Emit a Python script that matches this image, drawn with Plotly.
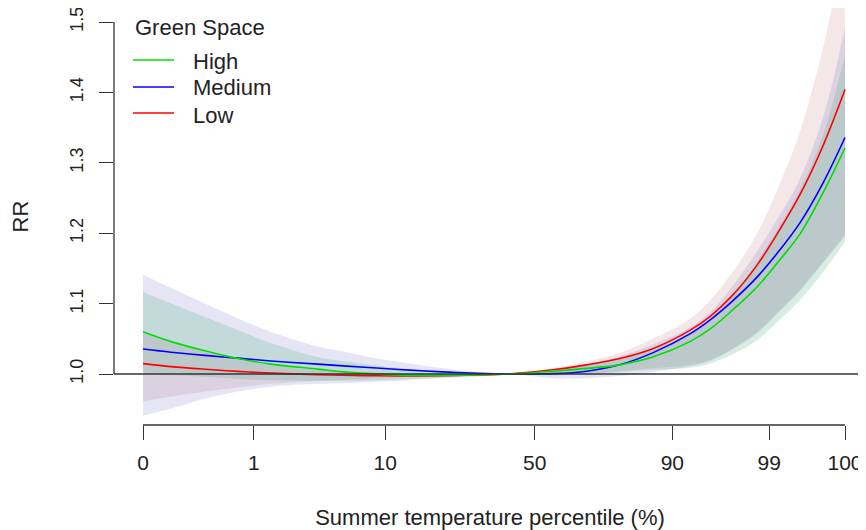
import plotly.graph_objects as go

# Position on the summer temperature scale (0 = coldest day, 100 = hottest day)
temp_pos = [0.0, 4.0, 8.8, 13.5, 18.2, 24.9, 28.5, 33.3, 38.0, 42.7, 47.6, 52.0,
            58.4, 63.2, 67.9, 72.6, 77.9, 80.8, 84.0, 87.5, 90.7, 93.6, 96.9, 100.0]

# Percentile ticks and their positions on the temperature scale
tick_pos = [0.0, 15.8, 34.5, 55.8, 75.4, 89.2, 100.0]
tick_labels = ["0", "1", "10", "50", "90", "99", "100"]

# Relative risk (RR) curves
rr_high = [1.060, 1.046, 1.033, 1.022, 1.014, 1.007, 1.003, 1.000, 0.998, 0.998, 0.9985, 1.000,
           1.004, 1.008, 1.013, 1.024, 1.046, 1.064, 1.091, 1.124, 1.162, 1.199, 1.258, 1.321]
rr_medium = [1.0355, 1.031, 1.0265, 1.0225, 1.0185, 1.014, 1.0115, 1.0085, 1.0055, 1.003, 1.001, 1.000,
             1.0005, 1.004, 1.013, 1.030, 1.057, 1.077, 1.104, 1.138, 1.176, 1.215, 1.272, 1.336]
rr_low = [1.0147, 1.0105, 1.0068, 1.0037, 1.0013, 0.999, 0.9982, 0.9975, 0.9972, 0.9975, 0.9985, 1.000,
          1.006, 1.013, 1.022, 1.036, 1.062, 1.082, 1.112, 1.155, 1.205, 1.255, 1.325, 1.404]

# 95% confidence bands
high_lo = [1.002, 0.999, 0.996, 0.993, 0.991, 0.990, 0.990, 0.991, 0.993, 0.995, 0.998, 1.000,
           0.998, 1.000, 1.003, 1.006, 1.009, 1.015, 1.028, 1.048, 1.077, 1.105, 1.145, 1.188]
high_hi = [1.116, 1.100, 1.081, 1.0625, 1.044, 1.024, 1.018, 1.012, 1.007, 1.004, 1.001, 1.000,
           1.006, 1.013, 1.022, 1.036, 1.058, 1.078, 1.110, 1.160, 1.210, 1.262, 1.340, 1.453]
medium_lo = [0.941, 0.951, 0.965, 0.975, 0.982, 0.986, 0.987, 0.989, 0.9915, 0.994, 0.996, 1.000,
             0.994, 0.994, 0.997, 1.003, 1.011, 1.019, 1.035, 1.058, 1.089, 1.118, 1.158, 1.195]
medium_hi = [1.141, 1.122, 1.100, 1.079, 1.060, 1.039, 1.032, 1.022, 1.015, 1.008, 1.003, 1.000,
             1.006, 1.014, 1.025, 1.042, 1.066, 1.088, 1.125, 1.175, 1.225, 1.278, 1.365, 1.491]
low_lo = [0.961, 0.968, 0.975, 0.981, 0.986, 0.9905, 0.992, 0.994, 0.996, 0.998, 0.999, 1.000,
          0.999, 1.001, 1.004, 1.008, 1.013, 1.020, 1.036, 1.060, 1.091, 1.120, 1.160, 1.199]
low_hi = [1.058, 1.045, 1.032, 1.021, 1.012, 1.006, 1.004, 1.002, 1.001, 1.0005, 1.0002, 1.000,
          1.008, 1.018, 1.030, 1.050, 1.078, 1.105, 1.145, 1.200, 1.270, 1.345, 1.465, 1.610]

y_ticks = [1.0, 1.1, 1.2, 1.3, 1.4, 1.5]
y_tick_labels = ["1.0", "1.1", "1.2", "1.3", "1.4", "1.5"]

legend_title = "Green Space"
legend_names = ["High", "Medium", "Low"]

groups = {
    "Low": (rr_low, low_lo, low_hi, "#ff0000", "rgba(190,120,120,0.18)"),
    "Medium": (rr_medium, medium_lo, medium_hi, "#0000ff", "rgba(110,110,200,0.18)"),
    "High": (rr_high, high_lo, high_hi, "#00dd00", "rgba(60,170,110,0.20)"),
}
band_order = ["Low", "Medium", "High"]

FONT = "Liberation Sans, Arial, sans-serif"
AXC = "#333333"

fig = go.Figure()

# confidence bands
for name in band_order:
    mid, lo, hi, lc, fc = groups[name]
    fig.add_trace(go.Scatter(x=temp_pos, y=lo, mode="lines", line=dict(width=0, shape="spline"),
                             showlegend=False, hoverinfo="skip"))
    fig.add_trace(go.Scatter(x=temp_pos, y=hi, mode="lines", line=dict(width=0, shape="spline"),
                             fill="tonexty", fillcolor=fc, showlegend=False, hoverinfo="skip"))

# reference line RR = 1
fig.add_shape(type="line", xref="paper", x0=0, x1=1, yref="y", y0=1, y1=1,
              line=dict(color=AXC, width=1.6), layer="above")

# central estimates
for name in band_order:
    mid, lo, hi, lc, fc = groups[name]
    fig.add_trace(go.Scatter(x=temp_pos, y=mid, mode="lines", name=name, showlegend=False,
                             line=dict(color=lc, width=1.6, shape="spline")))

# R-style axis lines spanning only the tick range
fig.add_shape(type="line", xref="x", x0=min(tick_pos), x1=max(tick_pos), yref="paper", y0=0, y1=0,
              line=dict(color=AXC, width=1.3))
fig.add_shape(type="line", xref="paper", x0=0, x1=0, yref="y", y0=min(y_ticks), y1=max(y_ticks),
              line=dict(color=AXC, width=1.3))

# legend (R-style, top-left inside the plot)
fig.add_annotation(text=legend_title, xref="paper", yref="paper", x=0.0253, y=0.9544,
                   xanchor="left", yanchor="middle", showarrow=False, font=dict(size=22))
key_x0, key_x1, text_x = 0.0253, 0.0798, 0.1030
key_y = [0.8753, 0.8106, 0.7482]
text_y = [0.8729, 0.8082, 0.7434]
for i, name in enumerate(legend_names):
    lc = groups[name][3]
    fig.add_shape(type="line", xref="paper", yref="paper", x0=key_x0, x1=key_x1,
                  y0=key_y[i], y1=key_y[i], line=dict(color=lc, width=1.6))
    fig.add_annotation(text=name, xref="paper", yref="paper", x=text_x, y=text_y[i],
                       xanchor="left", yanchor="middle", showarrow=False, font=dict(size=22))

fig.update_layout(
    width=858, height=522,
    margin=dict(l=106, r=0, t=0, b=105),
    plot_bgcolor="white", paper_bgcolor="white",
    font=dict(family=FONT, size=20, color="#222222"),
    showlegend=False,
    xaxis=dict(
        range=[-4.131, 102.99], tickmode="array", tickvals=tick_pos, ticktext=tick_labels,
        ticks="outside", ticklen=14, tickwidth=1.3, tickcolor=AXC, showline=False,
        showgrid=False, zeroline=False, tickfont=dict(size=21), ticklabelstandoff=5,
        automargin=False, ticklabeloverflow="allow",
        title=dict(text="Summer temperature percentile (%)", font=dict(size=22), standoff=50),
    ),
    yaxis=dict(
        range=[0.92756, 1.5199], tickmode="array", tickvals=y_ticks, ticktext=y_tick_labels,
        ticks="outside", ticklen=14, tickwidth=1.3, tickcolor=AXC, showline=False,
        showgrid=False, zeroline=False, tickangle=-90, tickfont=dict(size=18), ticklabelstandoff=9,
        automargin=False, ticklabeloverflow="allow",
        title=dict(text="RR", font=dict(size=22), standoff=40),
    ),
)

fig.write_html("out.html")
